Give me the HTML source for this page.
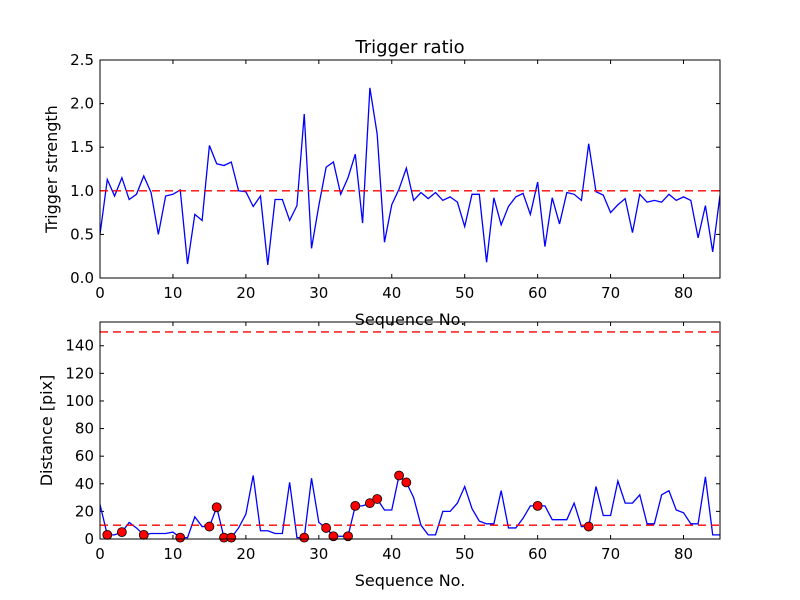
<!DOCTYPE html>
<html><head><meta charset="utf-8"><style>
body{margin:0;background:#fff}
svg{display:block;font-family:"DejaVu Sans","Liberation Sans",sans-serif}
</style></head><body>
<svg id="c" width="800" height="600"></svg>
<script>
const seqTop=[0.5,1.13,0.94,1.15,0.9,0.96,1.17,0.98,0.5,0.94,0.96,1.01,0.16,0.73,0.66,1.52,1.31,1.29,1.33,1.0,0.99,0.82,0.94,0.15,0.9,0.9,0.66,0.83,1.88,0.34,0.83,1.27,1.33,0.96,1.15,1.42,0.63,2.18,1.65,0.41,0.84,1.02,1.26,0.89,0.98,0.91,0.98,0.89,0.93,0.87,0.59,0.96,0.96,0.18,0.92,0.61,0.82,0.93,0.97,0.73,1.1,0.36,0.92,0.62,0.98,0.96,0.89,1.54,0.99,0.95,0.75,0.84,0.91,0.52,0.96,0.87,0.89,0.87,0.96,0.89,0.93,0.89,0.46,0.83,0.3,0.95];
const distBot=[25,3,3,5,12,8,3,4,4,4,5,1,1,16,9,9,23,1,1,8,18,46,6,6,4,4,41,1,1,44,12,8,2,2,2,24,24,26,29,21,21,46,41,30,10,3,3,20,20,26,38,22,13,11,11,35,8,8,15,24,24,24,14,14,14,26,9,9,38,17,17,42,26,26,32,11,11,32,35,21,19,11,11,45,3,3];
const flagged=[1,3,6,11,15,16,17,18,28,31,32,34,35,37,38,41,42,60,67];
const xTicks=[0,10,20,30,40,50,60,70,80];
const yTicksTop=[0,0.5,1.0,1.5,2.0,2.5];
const yTicksBot=[0,20,40,60,80,100,120,140];
const refTop=1.0, refBotLow=10, refBotHigh=150;

const NS="http://www.w3.org/2000/svg";
const svg=document.getElementById('c');
function mk(t,a,p){const e=document.createElementNS(NS,t);for(const k in a)e.setAttribute(k,a[k]);(p||svg).appendChild(e);return e;}
const X0=100,X1=720,XMAX=85;
const sx=v=>X0+(X1-X0)*v/XMAX;

function panel(name,top,bot,ymax,ticks,fmt,ylabel){
  const sy=v=>bot-(bot-top)*v/ymax;
  const g=mk('g',{});
  
  
  xTicks.forEach(t=>{
    const x=sx(t);
    mk('line',{x1:x,x2:x,y1:bot,y2:bot-4,stroke:'#000'},g);
    mk('line',{x1:x,x2:x,y1:top,y2:top+4,stroke:'#000'},g);
    const tx=mk('text',{x:x,y:bot+20,'text-anchor':'middle','font-size':15},g);
    tx.textContent=t;
    
    
  });
  ticks.forEach(t=>{
    const y=sy(t);
    mk('line',{x1:X0,x2:X0+4,y1:y,y2:y,stroke:'#000'},g);
    mk('line',{x1:X1,x2:X1-4,y1:y,y2:y,stroke:'#000'},g);
    const tx=mk('text',{x:X0-6,y:y+5,'text-anchor':'end','font-size':15},g);
    tx.textContent=fmt(t);
    
    
  });
  const xl=mk('text',{x:410,y:bot+47,'text-anchor':'middle','font-size':16},g);
  xl.textContent='Sequence No.';
  
  
  const cy=(top+bot)/2;
  const yl=mk('text',{x:0,y:0,'text-anchor':'middle','font-size':16,transform:`translate(${name==='top'?57:52},${cy}) rotate(-90)`},g);
  yl.textContent=ylabel;
  
  
  return sy;
}

const syT=panel('top',60,278,2.5,yTicksTop,v=>v.toFixed(1),'Trigger strength');
const syB=panel('bottom',322,539,157.2,yTicksBot,v=>String(v),'Distance [pix]');

const clipT=mk('clipPath',{id:'ct'});mk('rect',{x:X0,y:60,width:620,height:218},clipT);
const clipB=mk('clipPath',{id:'cb'});mk('rect',{x:X0,y:322,width:620,height:217},clipB);

const l1=mk('polyline',{points:seqTop.map((v,i)=>sx(i)+','+syT(v)).join(' '),fill:'none',stroke:'#0000ff','stroke-width':1.3,'clip-path':'url(#ct)'});


const r1=mk('line',{x1:X0,x2:X1,y1:syT(refTop),y2:syT(refTop),stroke:'#ff0000','stroke-width':1.3,'stroke-dasharray':'8,5'});



const l2=mk('polyline',{points:distBot.map((v,i)=>sx(i)+','+syB(v)).join(' '),fill:'none',stroke:'#0000ff','stroke-width':1.3,'clip-path':'url(#cb)'});


[refBotLow,refBotHigh].forEach(r=>{
  const rl=mk('line',{x1:X0,x2:X1,y1:syB(r),y2:syB(r),stroke:'#ff0000','stroke-width':1.3,'stroke-dasharray':'8,5'});
  
  
});
flagged.forEach(i=>{
  const c=mk('circle',{cx:sx(i),cy:syB(distBot[i]),r:4.5,fill:'#ff0000',stroke:'#000','stroke-width':0.8});
  
  
});

[[60,278],[322,539]].forEach(([t,b])=>{
  const f=mk('rect',{x:X0,y:t,width:620,height:b-t,fill:'none',stroke:'#000','stroke-width':1});
  
  
});
const ti=mk('text',{x:410,y:53,'text-anchor':'middle','font-size':18});
ti.textContent='Trigger ratio';


</script>
</body></html>
